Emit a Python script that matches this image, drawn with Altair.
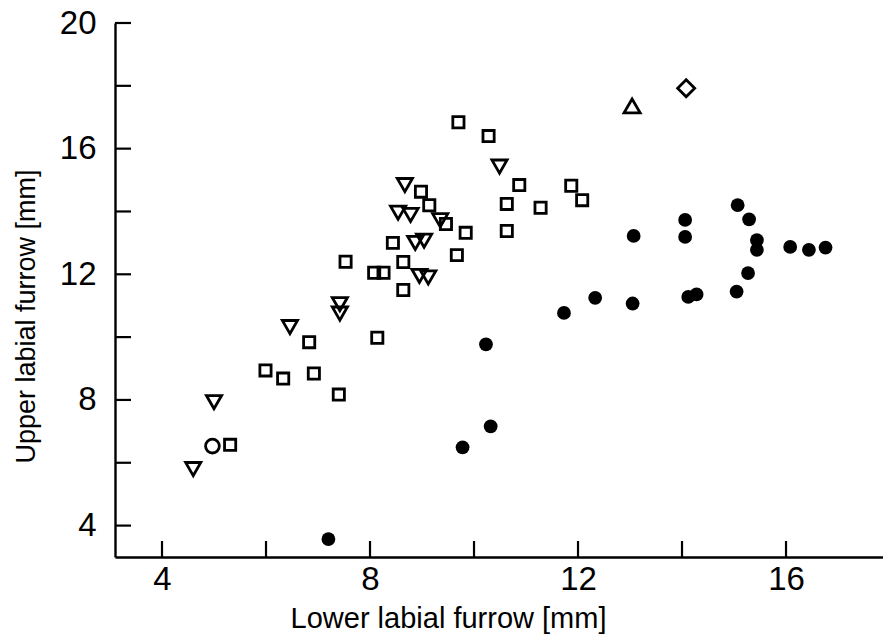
import altair as alt
import pandas as pd

# ---- data ----
square_x = [7.53, 9.70, 10.28, 10.87, 10.63, 11.28, 10.63, 11.87, 12.08, 8.98, 9.14, 9.46, 9.84,
            8.44, 9.67, 8.64, 8.08, 8.26, 8.64, 8.14, 6.83, 5.99, 6.33, 6.92, 7.40, 5.31]
square_y = [12.40, 16.84, 16.40, 14.84, 14.24, 14.12, 13.38, 14.82, 14.36, 14.63, 14.20, 13.60, 13.32,
            13.00, 12.61, 12.39, 12.05, 12.05, 11.50, 9.98, 9.84, 8.94, 8.68, 8.84, 8.17, 6.57]

tri_down_x = [10.49, 8.67, 8.54, 8.78, 9.35, 8.87, 9.04, 8.95, 9.12, 7.42, 7.42, 6.46, 5.00, 4.60]
tri_down_y = [15.43, 14.84, 13.96, 13.89, 13.72, 13.00, 13.07, 11.95, 11.90, 11.05, 10.75, 10.32, 7.93, 5.80]

tri_up_x = [13.04]
tri_up_y = [17.36]

diamond_x = [14.08]
diamond_y = [17.92]

open_circle_x = [4.97]
open_circle_y = [6.53]

dot_x = [13.07, 14.06, 14.06, 15.07, 15.29, 15.44, 15.44, 16.08, 16.44, 16.76, 15.27, 15.05,
         14.12, 14.28, 13.05, 12.33, 11.73, 10.23, 10.32, 9.78, 7.20]
dot_y = [13.22, 13.73, 13.19, 14.20, 13.75, 13.09, 12.78, 12.87, 12.78, 12.85, 12.04, 11.45,
         11.28, 11.36, 11.07, 11.25, 10.77, 9.77, 7.16, 6.49, 3.57]

x_tick_values = [4, 6, 8, 10, 12, 14, 16]
y_tick_values = [4, 6, 8, 10, 12, 14, 16, 18, 20]
x_label_values = [4, 8, 12, 16]
y_label_values = [4, 8, 12, 16, 20]

# ---- layout ----
W, H = 768, 534
FONT = "Liberation Sans"
TICK_LEN = 16

xs = alt.Scale(domain=[3.096, 17.865], nice=False, zero=False)
ys = alt.Scale(domain=[3, 20], nice=False, zero=False)

xaxis = alt.Axis(values=x_label_values, ticks=False, grid=False, format="d",
                 domainColor="black", domainWidth=2.4,
                 labelFont=FONT, labelFontSize=33, labelColor="black", labelPadding=6,
                 title="Lower labial furrow [mm]", titleFont=FONT, titleFontSize=29,
                 titleFontWeight="normal", titleColor="black",
                 titleX=333, titleY=70, titleBaseline="alphabetic", titleAlign="center")
yaxis = alt.Axis(values=y_label_values, ticks=False, grid=False, format="d",
                 domainColor="black", domainWidth=2.4,
                 labelFont=FONT, labelFontSize=33, labelColor="black", labelPadding=19,
                 title="Upper labial furrow [mm]", titleFont=FONT, titleFontSize=27,
                 titleFontWeight="normal", titleColor="black",
                 titleX=-81, titleY=293, titleAngle=-90, titleBaseline="alphabetic",
                 titleAlign="center")


def pts(xv, yv, shape, size, filled, sw=2.8):
    df = pd.DataFrame({"x": xv, "y": yv})
    return alt.Chart(df).mark_point(
        shape=shape, size=size, filled=filled, color="black",
        strokeWidth=sw, opacity=1
    ).encode(
        x=alt.X("x:Q", scale=xs, axis=xaxis),
        y=alt.Y("y:Q", scale=ys, axis=yaxis),
    )


xticks = alt.Chart(pd.DataFrame({"t": x_tick_values})).mark_rule(
    color="black", strokeWidth=2.2
).encode(
    x=alt.X("t:Q", scale=xs, axis=xaxis),
    y=alt.value(H),
    y2=alt.value(H - TICK_LEN),
)

yticks = alt.Chart(pd.DataFrame({"t": y_tick_values})).mark_rule(
    color="black", strokeWidth=2.2
).encode(
    y=alt.Y("t:Q", scale=ys, axis=yaxis),
    x=alt.value(0),
    x2=alt.value(TICK_LEN),
)

chart = alt.layer(
    xticks,
    yticks,
    pts(square_x, square_y, "square", 125, False),
    pts(tri_down_x, tri_down_y, "triangle-down", 230, False),
    pts(tri_up_x, tri_up_y, "triangle-up", 260, False),
    pts(diamond_x, diamond_y, "diamond", 290, False),
    pts(open_circle_x, open_circle_y, "circle", 190, False),
    pts(dot_x, dot_y, "circle", 190, True, 0),
).properties(
    width=W, height=H,
    autosize=alt.AutoSizeParams(type="none"),
    padding={"left": 115, "top": 23, "right": 0, "bottom": 83},
    background="white",
).configure_view(stroke=None)

chart.save("out.html", embed_options={"renderer": "svg", "actions": False})
